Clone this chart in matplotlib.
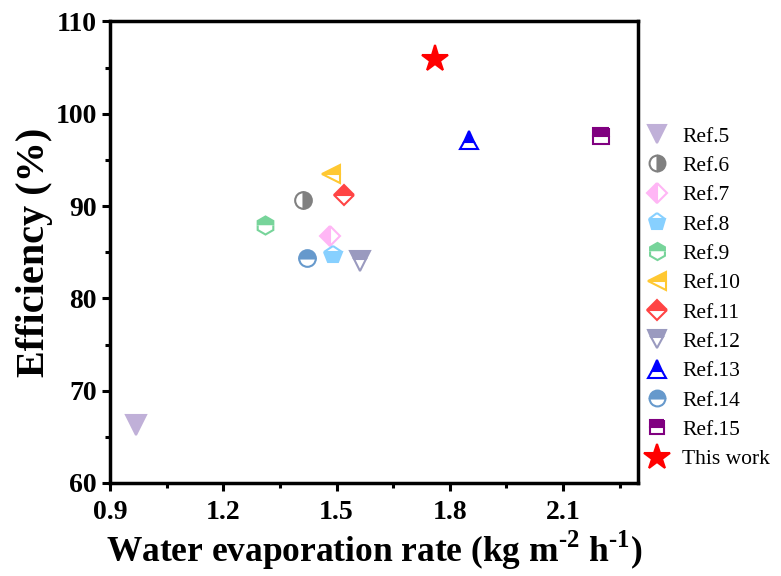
import matplotlib
matplotlib.use("Agg")
import matplotlib.pyplot as plt

plt.rcParams['font.family'] = ['Liberation Serif', 'DejaVu Serif']
plt.rcParams['mathtext.fontset'] = 'custom'
plt.rcParams['mathtext.rm'] = 'Liberation Serif'
plt.rcParams['mathtext.bf'] = 'Liberation Serif:bold'

labels = ["Ref.5", "Ref.6", "Ref.7", "Ref.8", "Ref.9", "Ref.10", "Ref.11",
          "Ref.12", "Ref.13", "Ref.14", "Ref.15", "This work"]
rate = [0.97, 1.41, 1.482, 1.491, 1.311, 1.485, 1.52, 1.562, 1.851, 1.422, 2.202, 1.761]
efficiency = [66.3, 90.7, 86.8, 84.7, 87.95, 93.5, 91.2, 84.0, 97.2, 84.35, 97.6, 105.9]
colors = ["#C0B0D8", "#808080", "#FFB6F5", "#87D0FF", "#77D49A", "#FFC832",
          "#FF4444", "#9A9ABF", "#0000FF", "#6699CC", "#800080", "#FF0000"]
markers = ["v", "o", "D", "p", "h", "<", "D", "v", "^", "o", "s", "*"]
fills = ["full", "right", "left", "bottom", "top", "top", "top", "top", "top",
         "top", "top", "full"]
sizes = [14, 12, 10.5, 13, 13, 13, 10.5, 14, 13, 12, 11, 20]

fig = plt.figure(figsize=(7.81, 5.76), dpi=100)
ax = fig.add_axes([0.1409, 0.1615, 0.6766, 0.8012])

handles = []
for x, y, c, m, f, s, lab in zip(rate, efficiency, colors, markers, fills, sizes, labels):
    h, = ax.plot([x], [y], linestyle='none', marker=m, markersize=s,
                 fillstyle=f, markerfacecolor=c, markeredgecolor=c,
                 markerfacecoloralt='white', markeredgewidth=1.5, label=lab)
    handles.append(h)

ax.set_xlim(0.9, 2.3)
ax.set_ylim(60, 110)
ax.set_xticks([0.9, 1.2, 1.5, 1.8, 2.1])
ax.set_xticks([1.05, 1.35, 1.65, 1.95, 2.25], minor=True)
ax.set_yticks([60, 70, 80, 90, 100, 110])
ax.set_yticks([65, 75, 85, 95, 105], minor=True)
ax.tick_params(which='major', direction='out', length=6, width=2.2,
               labelsize=20)
ax.tick_params(axis='x', which='major', pad=6)
ax.tick_params(which='minor', direction='out', length=3.5, width=2.2)
for lbl in ax.get_xticklabels() + ax.get_yticklabels():
    lbl.set_fontweight('bold')
for sp in ax.spines.values():
    sp.set_linewidth(2.5)

ax.set_xlabel("Water evaporation rate (kg m$^{\\mathbf{\u20102}}$ h$^{\\mathbf{\u20101}}$)",
              fontsize=25.5, fontweight='bold', labelpad=3)
ax.set_ylabel("Efficiency (%)", fontsize=29, fontweight='bold', labelpad=2)

ax.legend(handles=handles, loc='upper left', bbox_to_anchor=(0.985, 0.805),
          frameon=False, fontsize=15.5, handletextpad=0.6, labelspacing=0.43,
          borderaxespad=0.3, handlelength=1.1, markerscale=0.95)

fig.savefig("out.png", dpi=100)
